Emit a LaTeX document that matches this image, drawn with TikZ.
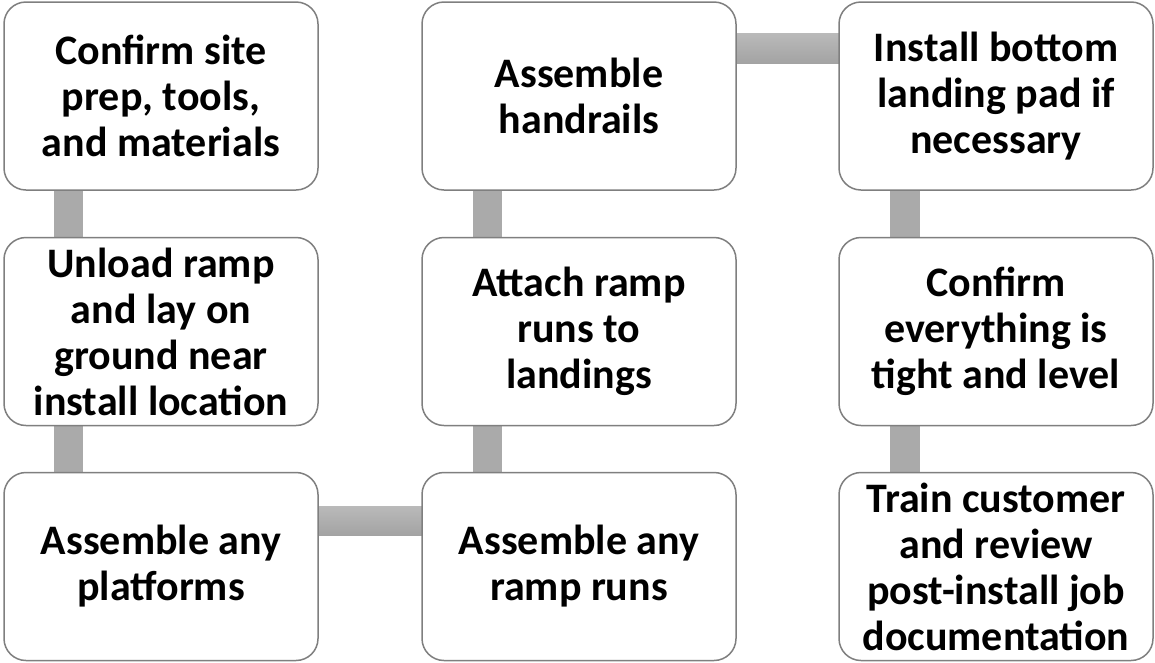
\documentclass[tikz,border=0pt]{standalone}
\usepackage{fontspec}
\setmainfont{Carlito}
\usetikzlibrary{backgrounds}
\definecolor{boxline}{HTML}{7F7F7F}
\definecolor{vconn}{HTML}{AAAAAA}
\definecolor{hlight}{HTML}{BABABA}
\definecolor{hdark}{HTML}{A3A3A3}
\begin{document}
\begin{tikzpicture}[x=1pt,y=-1pt,
  stepbox/.style={draw=boxline,line width=1.5pt,fill=white,rounded corners=22pt,
    minimum width=314pt,minimum height=188pt,inner sep=0pt,align=center,
    font=\fontsize{42}{46}\selectfont\bfseries},
  vbar/.style={fill=vconn,draw=none},
  hbar/.style={top color=hlight,bottom color=hdark,draw=none}]
\useasboundingbox (0,0) rectangle (1155,662);
% boxes
\node[stepbox] (b1) at (161,96) {Confirm site\\prep, tools,\\and materials};
\node[stepbox] (b2) at (161,331.5) {Unload ramp\\and lay on\\ground near\\install location};
\node[stepbox] (b3) at (161,566.5) {Assemble any\\platforms};
\node[stepbox] (b4) at (579,566.5) {Assemble any\\ramp runs};
\node[stepbox] (b5) at (579,331.5) {Attach ramp\\runs to\\landings};
\node[stepbox] (b6) at (579,96) {Assemble\\handrails};
\node[stepbox] (b7) at (996,96) {Install bottom\\landing pad if\\necessary};
\node[stepbox] (b8) at (996,331.5) {Confirm\\everything is\\tight and level};
\node[stepbox] (b9) at (996,566.5) {Train customer\\and review\\post-install job\\documentation};
% connectors (behind boxes)
\begin{scope}[on background layer]
\fill[vbar] ([xshift=-107pt,yshift=1pt]b1.south) rectangle ([xshift=-78pt,yshift=-1pt]b2.north);
\fill[vbar] ([xshift=-107pt,yshift=1pt]b2.south) rectangle ([xshift=-78pt,yshift=-1pt]b3.north);
\shade[hbar] ([xshift=-1pt,yshift=60.5pt]b3.east) rectangle ([xshift=1pt,yshift=31.5pt]b4.west);
\fill[vbar] ([xshift=-106pt,yshift=-1pt]b4.north) rectangle ([xshift=-77pt,yshift=1pt]b5.south);
\fill[vbar] ([xshift=-106pt,yshift=-1pt]b5.north) rectangle ([xshift=-77pt,yshift=1pt]b6.south);
\shade[hbar] ([xshift=-1pt,yshift=63pt]b6.east) rectangle ([xshift=1pt,yshift=33pt]b7.west);
\fill[vbar] ([xshift=-106pt,yshift=1pt]b7.south) rectangle ([xshift=-76pt,yshift=-1pt]b8.north);
\fill[vbar] ([xshift=-106pt,yshift=1pt]b8.south) rectangle ([xshift=-76pt,yshift=-1pt]b9.north);
\end{scope}
\end{tikzpicture}
\end{document}
